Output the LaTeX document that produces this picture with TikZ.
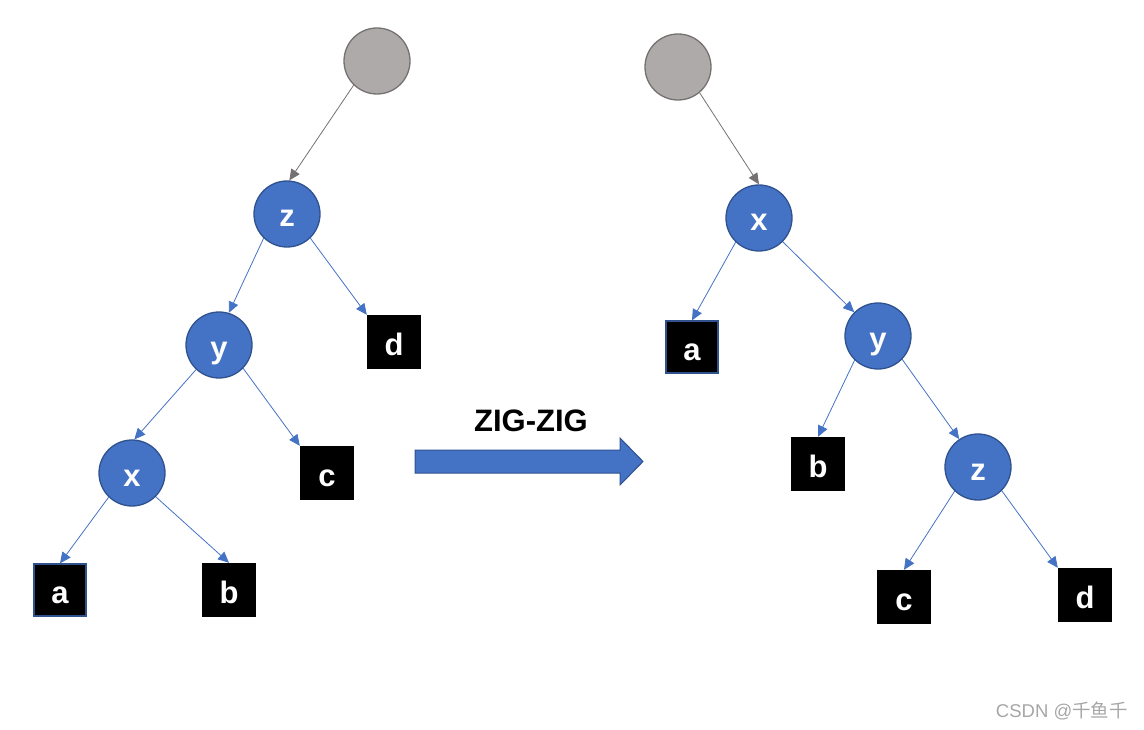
\documentclass[tikz,border=0pt]{standalone}
\usepackage{fontspec}
\setmainfont{Liberation Sans}
\newfontfamily\cjkfont{Noto Sans CJK SC}
\usetikzlibrary{arrows.meta}
\definecolor{nodeblue}{HTML}{4472C4}
\definecolor{nodeborder}{HTML}{2F528F}
\definecolor{rootgrey}{HTML}{AEAAAA}
\definecolor{rootborder}{HTML}{767171}
\definecolor{wmgrey}{HTML}{A6A6A6}
\tikzset{
  lettertext/.style={text=white, font=\fontsize{31}{34}\selectfont\bfseries,
    text height=26pt, text depth=0pt},
  treenode/.style={circle, draw=nodeborder, fill=nodeblue, line width=1.3pt,
    minimum size=66pt, inner sep=0pt, lettertext},
  rootnode/.style={circle, draw=rootborder, fill=rootgrey, line width=1.3pt,
    minimum size=66pt, inner sep=0pt},
  leafbox/.style={rectangle, fill=black, minimum size=54pt, inner sep=0pt,
    lettertext},
  leafblue/.style={leafbox, draw=nodeborder, line width=1.3pt, minimum size=52pt},
  edge/.style={draw=nodeblue, line width=0.8pt,
    -{Triangle[length=11pt,width=10pt]}},
  rootedge/.style={draw=rootborder, line width=0.8pt,
    -{Triangle[length=11pt,width=10pt]}},
}
\begin{document}
\begin{tikzpicture}[x=1pt,y=-1pt]
\useasboundingbox (0,0) rectangle (1144,730);
% left tree
\node[rootnode] (lr) at (377,61) {};
\node[treenode] (lz) at (287,214) {z};
\node[treenode] (ly) at (219,345) {y};
\node[treenode] (lx) at (132,473) {x};
\node[leafbox] (ld) at (394,342) {d};
\node[leafbox] (lc) at (327,473) {c};
\node[leafblue] (la) at (60,590) {a};
\node[leafbox] (lb) at (229,590) {b};
\draw[rootedge] (lr.226) -- (lz.86);
\draw[edge] (lz.226) -- (ly.73);
\draw[edge] (lz.314) -- (ld.north west);
\draw[edge] (ly.227) -- (lx.86);
\draw[edge] (ly.316) -- (lc.north west);
\draw[edge] (lx.226) -- (la.north);
\draw[edge] (lx.315) -- (lb.north);
% right tree
\node[rootnode] (rr) at (678,67) {};
\node[treenode] (rx) at (759,218) {x};
\node[treenode] (ry) at (878,336) {y};
\node[treenode] (rz) at (978,467) {z};
\node[leafblue] (ra) at (692,347) {a};
\node[leafbox] (rb) at (818,464) {b};
\node[leafbox] (rc) at (904,597) {c};
\node[leafbox] (rd) at (1085,595) {d};
\draw[rootedge] (rr.310) -- (rx.north);
\draw[edge] (rx.226) -- (ra.north);
\draw[edge] (rx.315) -- (ry.135);
\draw[edge] (ry.226) -- (rb.north);
\draw[edge] (ry.316) -- (rz.124);
\draw[edge] (rz.226) -- (rc.north);
\draw[edge] (rz.315) -- (rd.north west);
% big arrow
\draw[draw=nodeborder, fill=nodeblue, line width=1pt]
  (415,450) -- (620,450) -- (620,438) -- (643,461.5) -- (620,485) -- (620,473) -- (415,473) -- cycle;
\node[font=\fontsize{31}{34}\selectfont\bfseries] (lbl) at (531,421) {ZIG-ZIG};
% watermark
\node[text=wmgrey, font=\fontsize{18.5}{21}\selectfont, anchor=east, inner sep=0pt] (wm) at (1128,711) {CSDN @{\cjkfont 千鱼千}};
\end{tikzpicture}
\end{document}
